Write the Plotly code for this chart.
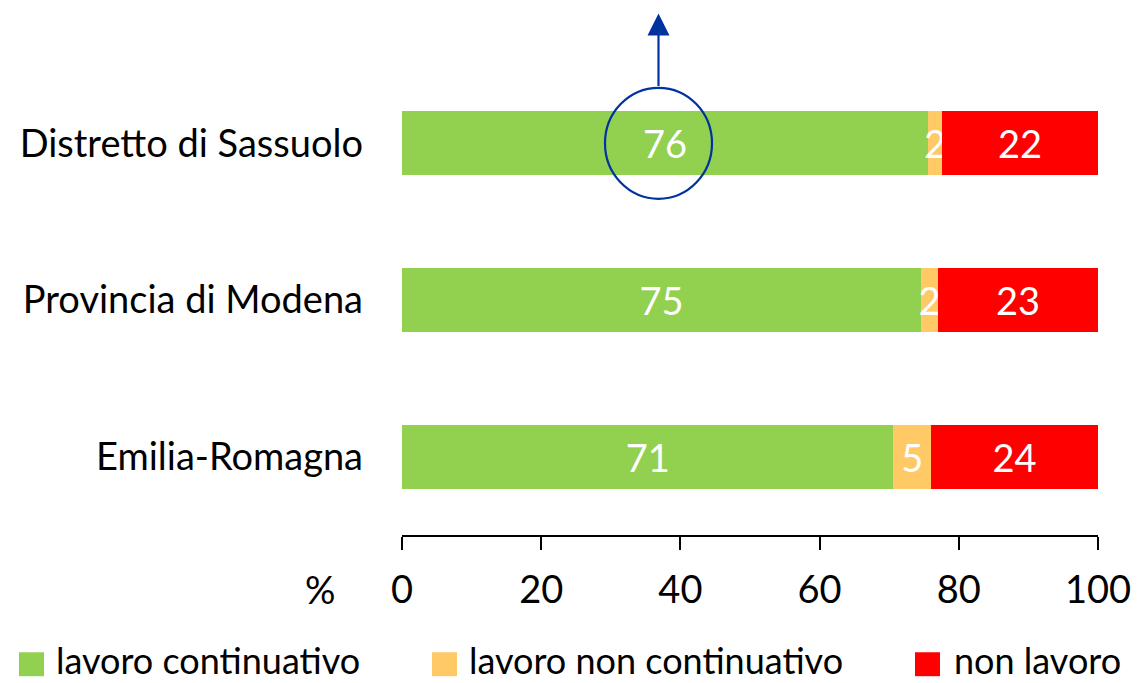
import plotly.graph_objects as go

categories = ["Distretto di Sassuolo", "Provincia di Modena", "Emilia-Romagna"]
series_names = ["lavoro continuativo", "lavoro non continuativo", "non lavoro"]
continuativo = [75.6, 74.6, 70.6]
non_continuativo = [2.0, 2.4, 5.4]
non_lavoro = [22.4, 23.0, 24.0]
colors = ["#92D050", "#FFC966", "#FF0000"]
x_ticks = [0, 20, 40, 60, 80, 100]

FONT = "Lato"
FS = 38
OFF = 8  # default page body margin
W, H = 1139 - OFF, 683 - OFF
ML, MR, MT, MB = 402 - OFF, 41, 64.5 - OFF, 147.5
PW = W - ML - MR
PH = H - MT - MB

def px_x(px):
    return (px - OFF - ML) / PW

def px_y(py):
    return (H - MB - (py - OFF)) / PH

fig = go.Figure()
for name, vals, col in zip(series_names, [continuativo, non_continuativo, non_lavoro], colors):
    fig.add_trace(go.Bar(
        y=categories, x=vals, name=name, orientation="h",
        marker=dict(color=col, line=dict(width=0)),
        texttemplate="%{x:.0f}", textposition="inside", insidetextanchor="middle",
        textangle=0, constraintext="none",
        insidetextfont=dict(color="white", size=FS, family=FONT),
        showlegend=False, hoverinfo="skip",
    ))

fig.update_layout(
    width=W, height=H, barmode="stack", bargap=0.592,
    margin=dict(l=ML, r=MR, t=MT, b=MB, autoexpand=False),
    plot_bgcolor="white", paper_bgcolor="white",
    font=dict(family=FONT, size=FS, color="black"),
    showlegend=False,
)
fig.update_xaxes(
    range=[0, 100], tickvals=x_ticks, showgrid=False, zeroline=False,
    showline=True, linecolor="black", linewidth=1.5,
    ticks="outside", ticklen=13, tickwidth=1.5, tickcolor="black",
    tickfont=dict(size=FS, family=FONT), ticklabelstandoff=8,
)
fig.update_yaxes(
    autorange="reversed", showgrid=False, zeroline=False, showline=False,
    ticks="", tickfont=dict(size=FS, family=FONT), ticklabelstandoff=38,
)

# "%" label
fig.add_annotation(x=px_x(320), y=px_y(590), xref="paper", yref="paper",
                   text="%", showarrow=False, font=dict(size=FS, family=FONT),
                   xanchor="center", yanchor="middle")

# circle highlight and arrow
circ_color = "#0033A0"
cx = (658.5 - OFF - ML) / PW * 100
fig.add_shape(type="circle", xref="x", yref="y", xsizemode="pixel", ysizemode="pixel",
              xanchor=cx, yanchor=categories[0],
              x0=-53.5, x1=53.5, y0=-55.5, y1=55.5,
              line=dict(color=circ_color, width=2.2))
fig.add_annotation(x=cx, xref="x", y=px_y(13), yref="paper",
                   ax=0, ay=74, axref="pixel", ayref="pixel", text="",
                   showarrow=True, arrowhead=2, arrowsize=2.0, arrowwidth=2.2,
                   arrowcolor=circ_color, standoff=0, startstandoff=0)

# manual legend
LFS = 36
leg_items = [(19, 54), (432, 467), (915, 952)]
for (sx, tx), name, col in zip(leg_items, series_names, colors):
    fig.add_shape(type="rect", xref="paper", yref="paper",
                  x0=px_x(sx), x1=px_x(sx + 25), y0=px_y(677), y1=px_y(653),
                  fillcolor=col, line=dict(width=0))
    fig.add_annotation(x=px_x(tx), y=px_y(661), xref="paper", yref="paper",
                       text=name, showarrow=False, xanchor="left", yanchor="middle",
                       font=dict(size=LFS, family=FONT))

fig.write_html("out.html")
